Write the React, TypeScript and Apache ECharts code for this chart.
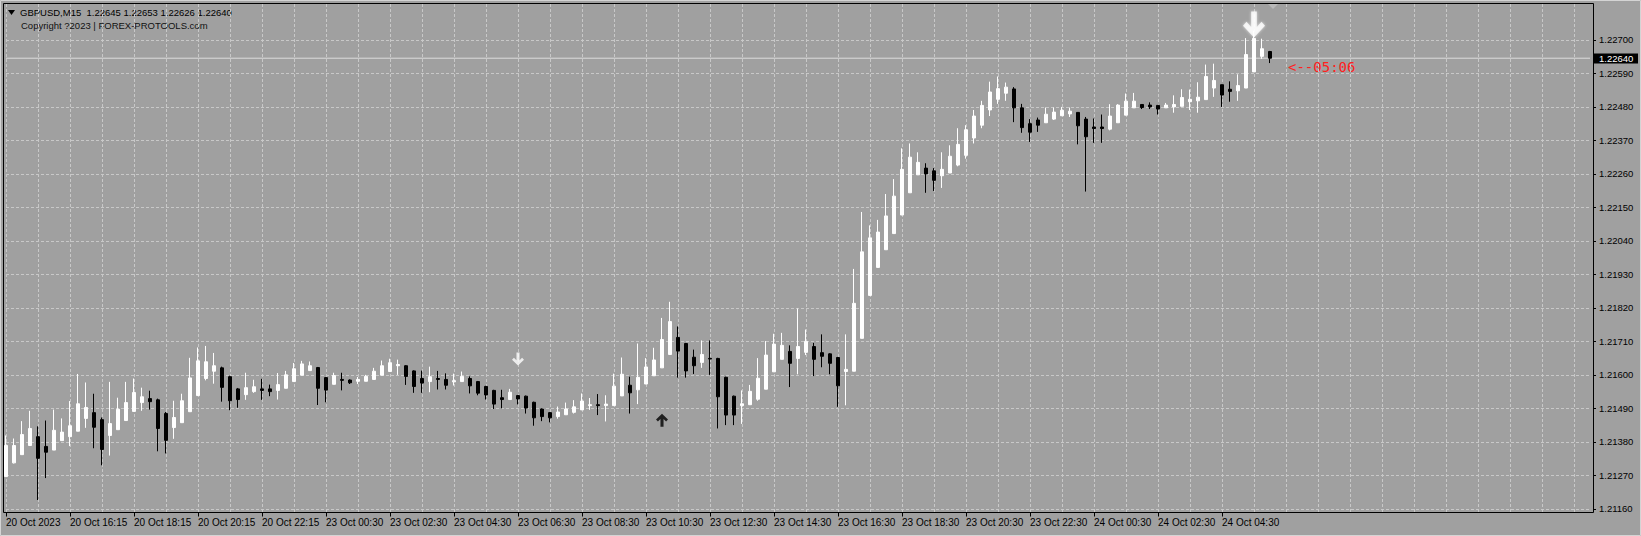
import React, { useEffect, useRef } from "react";
import * as echarts from "echarts";

// GBPUSD M15 bars, 20 Oct 2023 14:15 -> 24 Oct 2023 06:00
const openP = [
  1.21266, 1.21311, 1.21338, 1.21368, 1.21397, 1.21365, 1.21353, 1.21384, 1.21397, 1.21415,
  1.21457, 1.21476, 1.21453, 1.21401, 1.2142, 1.2145, 1.2148, 1.21509, 1.21522, 1.21518,
  1.21473, 1.21427, 1.21443, 1.21479, 1.21532, 1.21588, 1.21612, 1.21623, 1.21594, 1.21554,
  1.21535, 1.21545, 1.21554, 1.21554, 1.21549, 1.21556, 1.21578, 1.21599, 1.21614, 1.21624,
  1.21591, 1.21569, 1.21585, 1.21583, 1.21579, 1.21579, 1.21585, 1.21599, 1.21611, 1.2163,
  1.2163, 1.21613, 1.21588, 1.21578, 1.21588, 1.21585, 1.21577, 1.21578, 1.21588, 1.21578,
  1.21562, 1.21549, 1.21525, 1.21519, 1.21532, 1.2153, 1.2151, 1.21488, 1.21476, 1.21463,
  1.21469, 1.21477, 1.21485, 1.21499, 1.21502, 1.21499, 1.21499, 1.21531, 1.21566, 1.21551,
  1.2157, 1.21597, 1.21623, 1.21667, 1.21723, 1.21703, 1.21658, 1.21641, 1.21654, 1.21654,
  1.21592, 1.2153, 1.21499, 1.21502, 1.2152, 1.21553, 1.2161, 1.21651, 1.21677, 1.21654,
  1.21674, 1.21693, 1.21673, 1.21669, 1.21657, 1.21611, 1.21612, 1.2172, 1.21861, 1.21953,
  1.22011, 1.22064, 1.22125, 1.22198, 1.22257, 1.22279, 1.2227, 1.22254, 1.22263, 1.22289,
  1.22321, 1.22378, 1.2242, 1.2247, 1.22505, 1.22525, 1.22539, 1.22477, 1.22425, 1.22437,
  1.22428, 1.2244, 1.22451, 1.22457, 1.22462, 1.2244, 1.22414, 1.22414, 1.22407, 1.22428,
  1.22453, 1.22477, 1.22488, 1.22486, 1.22485, 1.22477, 1.2248, 1.22482, 1.22497, 1.225,
  1.22504, 1.22542, 1.22553, 1.22538, 1.22533, 1.22542, 1.22595, 1.22646, 1.22662
];
const highP = [
  1.21401, 1.21391, 1.21448, 1.21482, 1.21431, 1.2145, 1.21486, 1.21457, 1.21514, 1.21603,
  1.21575, 1.21538, 1.2146, 1.21577, 1.21525, 1.21577, 1.21588, 1.21558, 1.21548, 1.21522,
  1.21478, 1.21515, 1.21538, 1.21656, 1.2169, 1.21695, 1.21672, 1.21627, 1.21597, 1.21557,
  1.21607, 1.21584, 1.21587, 1.21568, 1.21606, 1.21613, 1.21639, 1.21646, 1.21644, 1.21626,
  1.21593, 1.21607, 1.21607, 1.21585, 1.21593, 1.216, 1.21623, 1.21647, 1.21653, 1.2165,
  1.21632, 1.21615, 1.21614, 1.21627, 1.21613, 1.21605, 1.21604, 1.21611, 1.21595, 1.2158,
  1.21564, 1.21551, 1.21551, 1.21554, 1.21534, 1.21532, 1.21512, 1.2149, 1.21478, 1.21496,
  1.21509, 1.21517, 1.21539, 1.21524, 1.21537, 1.21533, 1.21604, 1.21657, 1.21594, 1.21703,
  1.21655, 1.21689, 1.21787, 1.2184, 1.21759, 1.21705, 1.21683, 1.21713, 1.21713, 1.21656,
  1.21594, 1.21532, 1.21549, 1.21567, 1.21655, 1.21711, 1.21735, 1.21738, 1.21697, 1.21818,
  1.21749, 1.21705, 1.21733, 1.21671, 1.21659, 1.21733, 1.21948, 1.22135, 1.22091, 1.22109,
  1.22194, 1.22243, 1.22344, 1.2236, 1.22331, 1.22295, 1.22279, 1.22331, 1.22354, 1.2241,
  1.2242, 1.2247, 1.225, 1.22563, 1.2258, 1.2256, 1.22545, 1.2249, 1.2244, 1.22445,
  1.22478, 1.22478, 1.2248, 1.22478, 1.22462, 1.22447, 1.22442, 1.22455, 1.22489, 1.22489,
  1.22524, 1.22526, 1.22488, 1.22495, 1.22485, 1.22493, 1.22518, 1.22538, 1.22537, 1.22561,
  1.22619, 1.22622, 1.22553, 1.22564, 1.22587, 1.22706, 1.2273, 1.22704, 1.22664
];
const lowP = [
  1.21266, 1.21309, 1.21338, 1.21368, 1.21189, 1.21261, 1.21353, 1.21384, 1.21366, 1.21415,
  1.21426, 1.21359, 1.21303, 1.21335, 1.2142, 1.2145, 1.2148, 1.21482, 1.21486, 1.21349,
  1.21342, 1.2139, 1.21443, 1.21479, 1.21532, 1.21582, 1.21571, 1.21512, 1.21484, 1.21492,
  1.21518, 1.21541, 1.21518, 1.2153, 1.21519, 1.21556, 1.21578, 1.21599, 1.21614, 1.21501,
  1.2151, 1.21569, 1.21549, 1.2157, 1.2157, 1.21579, 1.21585, 1.21599, 1.21611, 1.216,
  1.21567, 1.21541, 1.21541, 1.21543, 1.21552, 1.21552, 1.21565, 1.21578, 1.21539, 1.21533,
  1.21519, 1.21488, 1.2149, 1.21519, 1.21503, 1.21473, 1.21433, 1.21448, 1.21444, 1.21456,
  1.21469, 1.21473, 1.21485, 1.21485, 1.21468, 1.21447, 1.21499, 1.21531, 1.21473, 1.21504,
  1.2157, 1.21597, 1.21623, 1.21667, 1.21591, 1.21591, 1.21603, 1.21623, 1.216, 1.21424,
  1.21435, 1.21435, 1.21439, 1.21502, 1.21515, 1.21553, 1.2161, 1.21651, 1.2156, 1.21602,
  1.21665, 1.21596, 1.21625, 1.21602, 1.21495, 1.215, 1.21612, 1.2172, 1.21861, 1.21953,
  1.22011, 1.22064, 1.22125, 1.22198, 1.22257, 1.22198, 1.22204, 1.22214, 1.22263, 1.22285,
  1.2231, 1.2236, 1.2241, 1.2245, 1.2249, 1.225, 1.2243, 1.22395, 1.22365, 1.22398,
  1.22428, 1.22437, 1.22451, 1.22447, 1.22357, 1.22202, 1.22362, 1.22362, 1.22403, 1.22428,
  1.22453, 1.22477, 1.22473, 1.22473, 1.22455, 1.22477, 1.22461, 1.22482, 1.2247, 1.22461,
  1.22504, 1.22513, 1.2248, 1.22497, 1.225, 1.22542, 1.22595, 1.22638, 1.22624
];
const closeP = [
  1.21368, 1.21368, 1.21404, 1.21424, 1.21326, 1.21346, 1.21418, 1.21412, 1.21433, 1.21505,
  1.21493, 1.21428, 1.21355, 1.2144, 1.21487, 1.21509, 1.21542, 1.21528, 1.21512, 1.21424,
  1.21385, 1.2146, 1.21515, 1.2159, 1.21646, 1.21643, 1.2163, 1.21559, 1.21515, 1.21519,
  1.21558, 1.21561, 1.21549, 1.21545, 1.21568, 1.216, 1.2162, 1.21636, 1.2163, 1.21556,
  1.2155, 1.21598, 1.21582, 1.21574, 1.21585, 1.21595, 1.21612, 1.2163, 1.2164, 1.21634,
  1.21595, 1.21562, 1.21573, 1.21594, 1.21585, 1.21566, 1.21581, 1.21595, 1.21564, 1.2154,
  1.21534, 1.21504, 1.21519, 1.21543, 1.21521, 1.21491, 1.21459, 1.21463, 1.21459, 1.21478,
  1.21488, 1.21495, 1.21514, 1.21502, 1.21499, 1.21504, 1.21563, 1.21602, 1.21541, 1.21592,
  1.21626, 1.21649, 1.21716, 1.21775, 1.21678, 1.21613, 1.2163, 1.21667, 1.21652, 1.21528,
  1.21468, 1.21468, 1.21505, 1.21546, 1.21589, 1.21665, 1.21701, 1.21697, 1.21638, 1.21693,
  1.2171, 1.21651, 1.21661, 1.21638, 1.21564, 1.21618, 1.21835, 1.22004, 1.2205, 1.22069,
  1.22122, 1.22187, 1.22275, 1.22315, 1.22298, 1.2226, 1.22239, 1.22275, 1.22318, 1.22357,
  1.22405, 1.2245, 1.22485, 1.22529, 1.2254, 1.22545, 1.22477, 1.22412, 1.22397, 1.2242,
  1.22456, 1.22463, 1.22469, 1.22466, 1.22418, 1.22382, 1.22409, 1.22409, 1.2245, 1.22486,
  1.22499, 1.22499, 1.22478, 1.2248, 1.22473, 1.22486, 1.22488, 1.22511, 1.22505, 1.22512,
  1.2258, 1.22567, 1.22519, 1.22531, 1.2255, 1.22652, 1.22705, 1.22671, 1.2264
];

const xTickLabels = [
  "20 Oct 2023", "20 Oct 16:15", "20 Oct 18:15", "20 Oct 20:15", "20 Oct 22:15",
  "23 Oct 00:30", "23 Oct 02:30", "23 Oct 04:30", "23 Oct 06:30", "23 Oct 08:30",
  "23 Oct 10:30", "23 Oct 12:30", "23 Oct 14:30", "23 Oct 16:30", "23 Oct 18:30",
  "23 Oct 20:30", "23 Oct 22:30", "24 Oct 00:30", "24 Oct 02:30", "24 Oct 04:30"
];
const yTicks = [
  1.2116, 1.2127, 1.2138, 1.2149, 1.216, 1.2171, 1.2182, 1.2193,
  1.2204, 1.2215, 1.2226, 1.2237, 1.2248, 1.2259, 1.227
];
const currentPrice = 1.2264;
const headerText = "GBPUSD,M15  1.22645 1.22653 1.22626 1.22640";
const copyrightText = "Copyright ?2023 | FOREX-PROTOOLS.com";
const countdownText = "<--05:06";
const sellSignals = [[64, 1.21652]];
const buySignals = [[82, 1.21451]];
const bigSellSignals = [[156, 1.22751]];

const SLOT_COUNT = 199;
const FONT = "'Liberation Sans', Arial, sans-serif";

const DOWN_ARROW = "path://M38,0 L62,0 L62,60 L82,40 L97,55 L50,100 L3,55 L18,40 L38,60 Z";
const UP_ARROW = "path://M38,100 L62,100 L62,40 L82,60 L97,45 L50,0 L3,45 L18,60 L38,40 Z";

export default function App() {
  const ref = useRef<HTMLDivElement>(null);
  useEffect(() => {
    if (!ref.current) return;
    const chart = echarts.init(ref.current, null, { renderer: "svg" });
    const categories = Array.from({ length: SLOT_COUNT }, (_, i) => String(i));
    const candles = openP.map((o, i) => [o, closeP[i], lowP[i], highP[i]]);
    const labelAt = (i: number) => i % 8 === 0 && i / 8 < xTickLabels.length;

    const staticGraphics: any[] = [
      {
        id: "frame",
        type: "rect",
        silent: true,
        shape: { x: 0.5, y: 0.5, width: 1640, height: 535 },
        style: { fill: "none", stroke: "#d4d4d4", lineWidth: 1 },
      },
      {
        id: "border",
        type: "rect",
        silent: true,
        shape: { x: 3.5, y: 3.5, width: 1590, height: 509 },
        style: { fill: "none", stroke: "#000", lineWidth: 1 },
      },
      {
        id: "tri",
        type: "polygon",
        silent: true,
        shape: { points: [[8, 10], [15, 10], [11.5, 15]] },
        style: { fill: "#000" },
      },
      {
        id: "header",
        type: "text",
        silent: true,
        x: 20,
        y: 12.5,
        style: {
          text: headerText,
          fill: "#000",
          font: `9.5px ${FONT}`,
          verticalAlign: "middle",
        },
      },
      {
        id: "copyright",
        type: "text",
        silent: true,
        x: 21,
        y: 25.5,
        style: {
          text: copyrightText,
          fill: "#111",
          font: `9.5px ${FONT}`,
          verticalAlign: "middle",
        },
      },
      {
        id: "countdown",
        type: "text",
        silent: true,
        x: 1288,
        y: 67,
        style: {
          text: countdownText,
          fill: "#ff2020",
          font: "14px 'DejaVu Sans Mono', monospace",
          verticalAlign: "middle",
        },
      },
      {
        id: "shift",
        type: "polygon",
        silent: true,
        shape: { points: [[1268, 4], [1278, 4], [1273, 9]] },
        style: { fill: "#b8b8b8" },
      },
    ];

    chart.setOption({
      animation: false,
      backgroundColor: "#a0a0a0",
      grid: { left: 6, top: 4, right: 51, bottom: 23.5, containLabel: false },
      xAxis: {
        type: "category",
        data: categories,
        boundaryGap: false,
        axisLine: { show: false },
        axisTick: {
          show: true,
          interval: (i: number) => labelAt(i),
          length: 4,
          lineStyle: { color: "#000", width: 1 },
        },
        axisLabel: {
          show: true,
          interval: (i: number) => labelAt(i),
          formatter: (_v: string, i: number) => (labelAt(i) ? xTickLabels[i / 8] : ""),
          align: "left",
          margin: 5,
          color: "#000",
          fontSize: 10,
          fontFamily: FONT,
        },
        splitLine: {
          show: true,
          interval: 3,
          lineStyle: { color: "#c8c8c8", type: [3, 2], width: 1 },
        },
      },
      yAxis: {
        type: "value",
        position: "right",
        offset: 3,
        min: 1.21148,
        max: 1.22818,
        scale: true,
        axisLine: { show: false },
        axisTick: {
          show: true,
          customValues: yTicks,
          length: 3,
          lineStyle: { color: "#000", width: 1 },
        },
        axisLabel: {
          show: true,
          customValues: yTicks,
          formatter: (v: number) => v.toFixed(5),
          margin: 6,
          color: "#000",
          fontSize: 9.5,
          fontFamily: FONT,
        },
        splitLine: {
          show: true,
          lineStyle: { color: "#c8c8c8", type: [3, 2], width: 1 },
        },
      },
      series: [
        {
          type: "line",
          data: [[0, currentPrice], [SLOT_COUNT - 1, currentPrice]],
          symbol: "none",
          lineStyle: { color: "#dcdcdc", width: 1, type: "solid" },
          silent: true,
          z: 1,
        },
        {
          type: "candlestick",
          data: candles,
          barWidth: 4,
          z: 3,
          itemStyle: {
            color: "#ffffff",
            color0: "#000000",
            borderColor: "#ffffff",
            borderColor0: "#000000",
            borderWidth: 1,
          },
        },
        {
          type: "scatter",
          data: sellSignals,
          symbol: DOWN_ARROW,
          symbolSize: [12, 13],
          itemStyle: { color: "#ffffff" },
          silent: true,
          z: 4,
        },
        {
          type: "scatter",
          data: buySignals,
          symbol: UP_ARROW,
          symbolSize: [12, 13],
          itemStyle: { color: "#000000" },
          silent: true,
          z: 4,
        },
        {
          type: "scatter",
          data: bigSellSignals,
          symbol: DOWN_ARROW,
          symbolSize: [22, 26],
          itemStyle: { color: "#ffffff", shadowColor: "rgba(255,255,255,0.8)", shadowBlur: 3 },
          silent: true,
          z: 4,
        },
      ],
      graphic: staticGraphics,
    });

    const py = chart.convertToPixel({ yAxisIndex: 0 }, currentPrice) as number;
    chart.setOption({
      graphic: [
        ...staticGraphics,
        {
          id: "priceTag",
          type: "group",
          silent: true,
          children: [
            {
              type: "rect",
              shape: { x: 1594, y: Math.round(py) - 4.5, width: 44, height: 10 },
              style: { fill: "#000" },
            },
            {
              type: "text",
              x: 1599,
              y: Math.round(py) + 0.5,
              style: {
                text: currentPrice.toFixed(5),
                fill: "#fff",
                font: `9.5px ${FONT}`,
                verticalAlign: "middle",
              },
            },
          ],
        },
      ],
    });
    return () => chart.dispose();
  }, []);
  return (
    <div
      ref={ref}
      style={{ position: "fixed", left: 0, top: 0, width: 1641, height: 536 }}
    />
  );
}
